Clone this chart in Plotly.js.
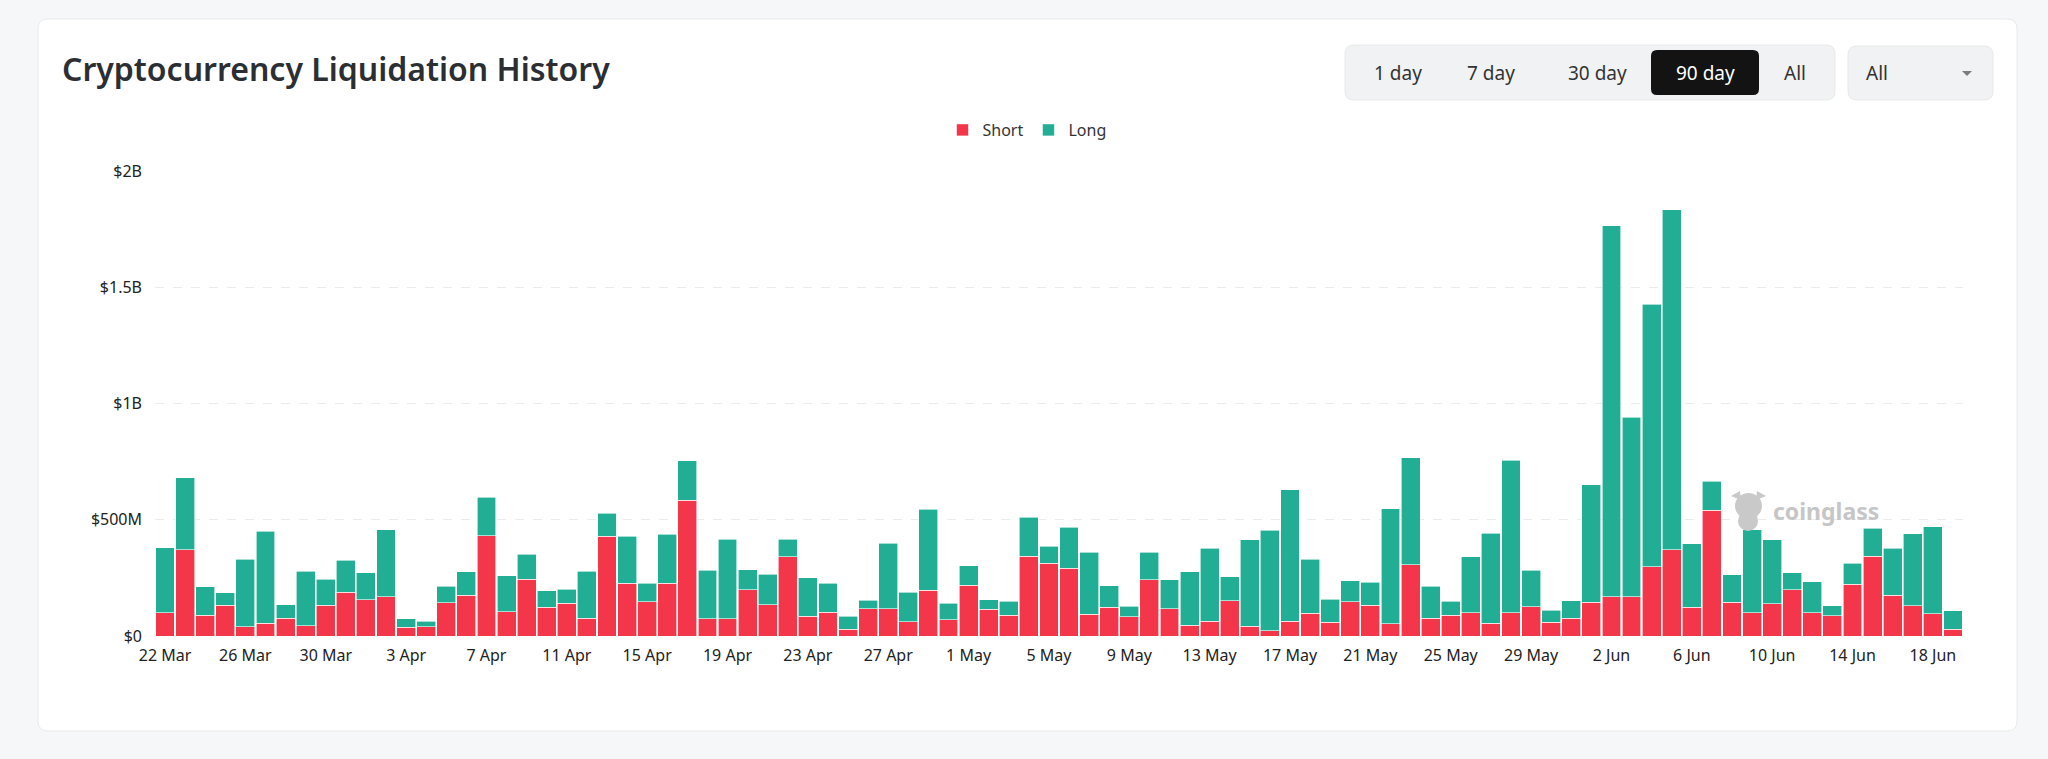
<!DOCTYPE html>
<html>
<head>
<meta charset="utf-8">
<script src="https://cdn.plot.ly/plotly-3.0.1.min.js"></script>
<style>
  html, body { margin: 0; padding: 0; background: #f6f7f8; }
  #chart { width: 2048px; height: 759px; }
</style>
</head>
<body>
<div id="chart"></div>
<script>
// ---- Data (values in $ millions) ----
const days = [
  '22 Mar','23 Mar','24 Mar','25 Mar','26 Mar','27 Mar','28 Mar','29 Mar','30 Mar','31 Mar',
  '1 Apr','2 Apr','3 Apr','4 Apr','5 Apr','6 Apr','7 Apr','8 Apr','9 Apr','10 Apr',
  '11 Apr','12 Apr','13 Apr','14 Apr','15 Apr','16 Apr','17 Apr','18 Apr','19 Apr','20 Apr',
  '21 Apr','22 Apr','23 Apr','24 Apr','25 Apr','26 Apr','27 Apr','28 Apr','29 Apr','30 Apr',
  '1 May','2 May','3 May','4 May','5 May','6 May','7 May','8 May','9 May','10 May',
  '11 May','12 May','13 May','14 May','15 May','16 May','17 May','18 May','19 May','20 May',
  '21 May','22 May','23 May','24 May','25 May','26 May','27 May','28 May','29 May','30 May',
  '31 May','1 Jun','2 Jun','3 Jun','4 Jun','5 Jun','6 Jun','7 Jun','8 Jun','9 Jun',
  '10 Jun','11 Jun','12 Jun','13 Jun','14 Jun','15 Jun','16 Jun','17 Jun','18 Jun','19 Jun'
];
const shortVals = [
  100, 372, 90, 132, 40, 54, 77, 44, 132, 189,
  156, 169, 37, 40, 142, 175, 431, 105, 245, 123,
  140, 76, 428, 226, 148, 226, 583, 75, 75, 198,
  135, 340, 86, 103, 30, 117, 117, 62, 196, 69,
  218, 116, 89, 342, 312, 291, 93, 123, 83, 241,
  117, 46, 63, 152, 43, 23, 64, 97, 60, 148,
  132, 52, 307, 77, 89, 99, 54, 100, 126, 59,
  76, 145, 169, 168, 298, 371, 123, 540, 146, 100,
  139, 199, 100, 87, 222, 344, 175, 130, 95, 29
];
const longVals = [
  280, 308, 121, 54, 291, 396, 58, 234, 113, 136,
  115, 289, 37, 23, 73, 102, 166, 154, 106, 72,
  61, 203, 99, 202, 78, 211, 171, 207, 342, 87,
  130, 77, 165, 123, 56, 36, 281, 126, 350, 71,
  84, 40, 61, 169, 75, 176, 267, 93, 45, 120,
  125, 231, 314, 102, 370, 431, 566, 233, 98, 90,
  99, 495, 459, 138, 60, 242, 387, 656, 156, 51,
  76, 505, 1596, 772, 1129, 1463, 274, 126, 118, 357,
  276, 73, 134, 43, 92, 119, 203, 310, 375, 80
];
const xTickLabels = ['22 Mar','26 Mar','30 Mar','3 Apr','7 Apr','11 Apr','15 Apr','19 Apr',
  '23 Apr','27 Apr','1 May','5 May','9 May','13 May','17 May','21 May','25 May','29 May',
  '2 Jun','6 Jun','10 Jun','14 Jun','18 Jun'];
const yTickVals = [0, 500, 1000, 1500, 2000];
const yTickText = ['$0', '$500M', '$1B', '$1.5B', '$2B'];
const rangeButtons = ['1 day', '7 day', '30 day', '90 day', 'All'];
const selectedButton = '90 day';
const coinFilter = 'All';

// ---- Layout helpers (pixel -> paper) ----
const PL = 155, PR = 1963, PT = 171, PB = 636;
const PW = PR - PL, PH = PB - PT;
const fx = x => (x - PL) / PW;
const fy = y => (PB - y) / PH;
function rrect(x0, y0, x1, y1, r) {
  const X = fx, Y = fy;
  return `M${X(x0 + r)},${Y(y0)} L${X(x1 - r)},${Y(y0)} Q${X(x1)},${Y(y0)} ${X(x1)},${Y(y0 + r)} ` +
         `L${X(x1)},${Y(y1 - r)} Q${X(x1)},${Y(y1)} ${X(x1 - r)},${Y(y1)} ` +
         `L${X(x0 + r)},${Y(y1)} Q${X(x0)},${Y(y1)} ${X(x0)},${Y(y1 - r)} ` +
         `L${X(x0)},${Y(y0 + r)} Q${X(x0)},${Y(y0)} ${X(x0 + r)},${Y(y0)} Z`;
}
const FONT = 'Noto Sans, Open Sans, DejaVu Sans, sans-serif';

const RED = '#F3364A', GREEN = '#22AE95';

const traces = [
  { type: 'bar', name: 'Short', x: days, y: shortVals,
    marker: { color: RED, line: { color: '#ffffff', width: 0.6 } }, hoverinfo: 'x+y+name' },
  { type: 'bar', name: 'Long', x: days, y: longVals,
    marker: { color: GREEN, line: { color: '#ffffff', width: 0.6 } }, hoverinfo: 'x+y+name' }
];

const shapes = [
  // card
  { type: 'path', xref: 'paper', yref: 'paper', layer: 'below',
    path: rrect(38, 19, 2017, 731, 10), fillcolor: '#ffffff', line: { color: '#e9eaeb', width: 1 } },
  // button group
  { type: 'path', xref: 'paper', yref: 'paper', layer: 'below',
    path: rrect(1345, 45, 1835, 100, 9), fillcolor: '#f0f2f3', line: { color: '#e7e9ea', width: 1 } },
  // active button
  { type: 'path', xref: 'paper', yref: 'paper', layer: 'below',
    path: rrect(1651, 50, 1759, 95, 6), fillcolor: '#131313', line: { width: 0 } },
  // dropdown
  { type: 'path', xref: 'paper', yref: 'paper', layer: 'below',
    path: rrect(1848, 46, 1993, 100, 9), fillcolor: '#f0f2f3', line: { color: '#e7e9ea', width: 1 } },
  // dropdown arrow
  { type: 'path', xref: 'paper', yref: 'paper', layer: 'below',
    path: `M${fx(1962)},${fy(71)} L${fx(1972)},${fy(71)} L${fx(1967)},${fy(76)} Z`,
    fillcolor: '#7a7d80', line: { width: 0 } },
  // watermark mascot (approximation)
  { type: 'circle', xref: 'paper', yref: 'paper', layer: 'above',
    x0: fx(1735), x1: fx(1762), y0: fy(519), y1: fy(493), fillcolor: '#c9c9c9', line: { width: 0 } },
  { type: 'path', xref: 'paper', yref: 'paper', layer: 'above',
    path: `M${fx(1731)},${fy(496)} L${fx(1740)},${fy(491)} L${fx(1741)},${fy(500)} Z M${fx(1766)},${fy(496)} L${fx(1757)},${fy(491)} L${fx(1756)},${fy(500)} Z`,
    fillcolor: '#c9c9c9', line: { width: 0 } },
  { type: 'circle', xref: 'paper', yref: 'paper', layer: 'above',
    x0: fx(1738), x1: fx(1758), y0: fy(531), y1: fy(511), fillcolor: '#c9c9c9', line: { width: 0 } }
];

const btnCenters = [1398, 1491, 1597, 1705, 1795];
const annotations = [
  { text: 'Cryptocurrency Liquidation History', xref: 'paper', yref: 'paper',
    x: fx(60), y: fy(68), xanchor: 'left', yanchor: 'middle', showarrow: false,
    font: { family: FONT, size: 32, color: '#2b2f33', weight: 600 } },
  { text: coinFilter, xref: 'paper', yref: 'paper', x: fx(1864), y: fy(73),
    xanchor: 'left', yanchor: 'middle', showarrow: false,
    font: { family: FONT, size: 19, color: '#333333' } },
  { text: '<b>coinglass</b>', xref: 'paper', yref: 'paper', x: fx(1771), y: fy(511),
    xanchor: 'left', yanchor: 'middle', showarrow: false,
    font: { family: FONT, size: 23, color: '#c6c6c6' } }
];
rangeButtons.forEach((b, i) => {
  annotations.push({ text: b, xref: 'paper', yref: 'paper', x: fx(btnCenters[i]), y: fy(73),
    xanchor: 'center', yanchor: 'middle', showarrow: false,
    font: { family: FONT, size: 19, color: b === selectedButton ? '#ffffff' : '#333333' } });
});

const layout = {
  width: 2048, height: 759, autosize: false,
  margin: { l: PL, r: 2048 - PR, t: PT, b: 759 - PB, pad: 0 },
  paper_bgcolor: '#f6f7f8', plot_bgcolor: 'rgba(0,0,0,0)',
  barmode: 'stack', bargap: 0.06,
  font: { family: FONT, size: 16, color: '#222222' },
  showlegend: true,
  legend: { orientation: 'h', x: fx(1027), xanchor: 'center', y: fy(130), yanchor: 'middle',
    traceorder: 'normal', font: { family: FONT, size: 16, color: '#333333' }, bgcolor: 'rgba(0,0,0,0)' },
  xaxis: { type: 'category', tickmode: 'array', tickvals: xTickLabels, ticktext: xTickLabels,
    showgrid: false, zeroline: false, showline: false, ticks: '', ticklabelstandoff: 8,
    tickfont: { family: FONT, size: 16, color: '#222222' }, fixedrange: true },
  yaxis: { range: [0, 2000], tickmode: 'array', tickvals: yTickVals, ticktext: yTickText,
    showgrid: true, gridcolor: '#ebebeb', griddash: 'dash', gridwidth: 1,
    zeroline: false, showline: false, ticks: '', ticklabelstandoff: 12,
    tickfont: { family: FONT, size: 16, color: '#222222' }, fixedrange: true },
  shapes: shapes,
  annotations: annotations
};

Plotly.newPlot('chart', traces, layout, { displayModeBar: false, responsive: false });
</script>
</body>
</html>
